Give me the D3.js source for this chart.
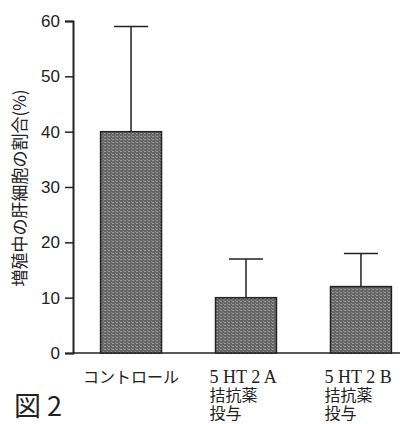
<!DOCTYPE html>
<html>
<head>
<meta charset="utf-8">
<script src="https://cdn.jsdelivr.net/npm/d3@7"></script>
<style>
  body { margin: 0; background: #fff; }
  svg { display: block; }
  .tick text { font-family: "Liberation Sans", Arial, sans-serif; font-size: 17px; fill: #222; }
  .jp { font-family: "Noto Sans CJK JP", sans-serif; fill: #222; }
  .serif { font-family: "Liberation Serif", serif; font-size: 18px; }
</style>
</head>
<body>
<svg id="chart" width="403" height="424"></svg>
<script>
// Data
const categories = ['control', '5HT2A', '5HT2B'];
const labels = [['コントロール'], ['5 HT 2 A', '拮抗薬', '投与'], ['5 HT 2 B', '拮抗薬', '投与']];
const means = [40, 10, 12];
const errors = [19, 7, 6]; // upper error (SD)
const yTicks = [0, 10, 20, 30, 40, 50, 60];

const svg = d3.select('#chart');

const x = d3.scaleBand()
  .domain(categories)
  .range([73, 419])
  .paddingInner(0.47)
  .paddingOuter(0.24);

const y = d3.scaleLinear()
  .domain([0, 60])
  .range([353, 21]);

// Bar texture
const defs = svg.append('defs');
const pat = defs.append('pattern')
  .attr('id', 'tex')
  .attr('patternUnits', 'userSpaceOnUse')
  .attr('width', 4)
  .attr('height', 3);
pat.append('rect').attr('width', 4).attr('height', 3).attr('fill', '#666');
pat.append('rect').attr('x', 0).attr('y', 1).attr('width', 2).attr('height', 1).attr('fill', '#9a9a9a');
pat.append('rect').attr('x', 3).attr('y', 0).attr('width', 1).attr('height', 1).attr('fill', '#888');

// Y axis
const yAxis = svg.append('g')
  .attr('transform', 'translate(73,0)')
  .call(d3.axisLeft(y).tickValues(yTicks).tickSize(8).tickPadding(5));
yAxis.select('.domain').attr('stroke', '#222').attr('stroke-width', 2);
yAxis.selectAll('.tick line').attr('stroke', '#222').attr('stroke-width', 1.5);

// Baseline
svg.append('line')
  .attr('x1', 73).attr('x2', 400)
  .attr('y1', y(0)).attr('y2', y(0))
  .attr('stroke', '#222').attr('stroke-width', 1.5);

// Error bars (upper only)
const eb = svg.append('g').selectAll('g')
  .data(categories)
  .join('g');
eb.append('line')
  .attr('x1', (d) => x(d) + x.bandwidth() / 2)
  .attr('x2', (d) => x(d) + x.bandwidth() / 2)
  .attr('y1', (d, i) => y(means[i]))
  .attr('y2', (d, i) => y(means[i] + errors[i]))
  .attr('stroke', '#222').attr('stroke-width', 1.5);
eb.append('line')
  .attr('x1', (d) => x(d) + x.bandwidth() * 0.22)
  .attr('x2', (d) => x(d) + x.bandwidth() * 0.78)
  .attr('y1', (d, i) => y(means[i] + errors[i]))
  .attr('y2', (d, i) => y(means[i] + errors[i]))
  .attr('stroke', '#222').attr('stroke-width', 1.5);

// Bars
svg.append('g').selectAll('rect')
  .data(categories)
  .join('rect')
  .attr('x', (d) => x(d))
  .attr('width', x.bandwidth())
  .attr('y', (d, i) => y(means[i]))
  .attr('height', (d, i) => y(0) - y(means[i]))
  .attr('fill', 'url(#tex)')
  .attr('stroke', '#222')
  .attr('stroke-width', 1.5);

// Category labels
const lab = svg.append('g').selectAll('text')
  .data(categories)
  .join('text')
  .attr('class', 'jp')
  .attr('font-size', 16)
  .attr('text-anchor', (d, i) => (i === 0 ? 'middle' : 'start'))
  .attr('x', (d, i) => (i === 0 ? x(d) + x.bandwidth() / 2 : x(d) - 6))
  .attr('y', 383);
lab.selectAll('tspan')
  .data((d, i) => labels[i])
  .join('tspan')
  .attr('class', (d, j) => (j === 0 && d.startsWith('5') ? 'serif' : null))
  .attr('x', function () { return d3.select(this.parentNode).attr('x'); })
  .attr('dy', (d, j) => (j === 0 ? 0 : 18))
  .text((d) => d);

// Y label
svg.append('text')
  .attr('class', 'jp')
  .attr('font-size', 17)
  .attr('text-anchor', 'middle')
  .attr('transform', 'translate(26,188) rotate(-90)')
  .text('増殖中の肝細胞の割合(%)');

// Figure label
svg.append('text')
  .attr('class', 'jp')
  .attr('font-size', 27)
  .attr('x', 14)
  .attr('y', 416)
  .text('図 2');
</script>
</body>
</html>
